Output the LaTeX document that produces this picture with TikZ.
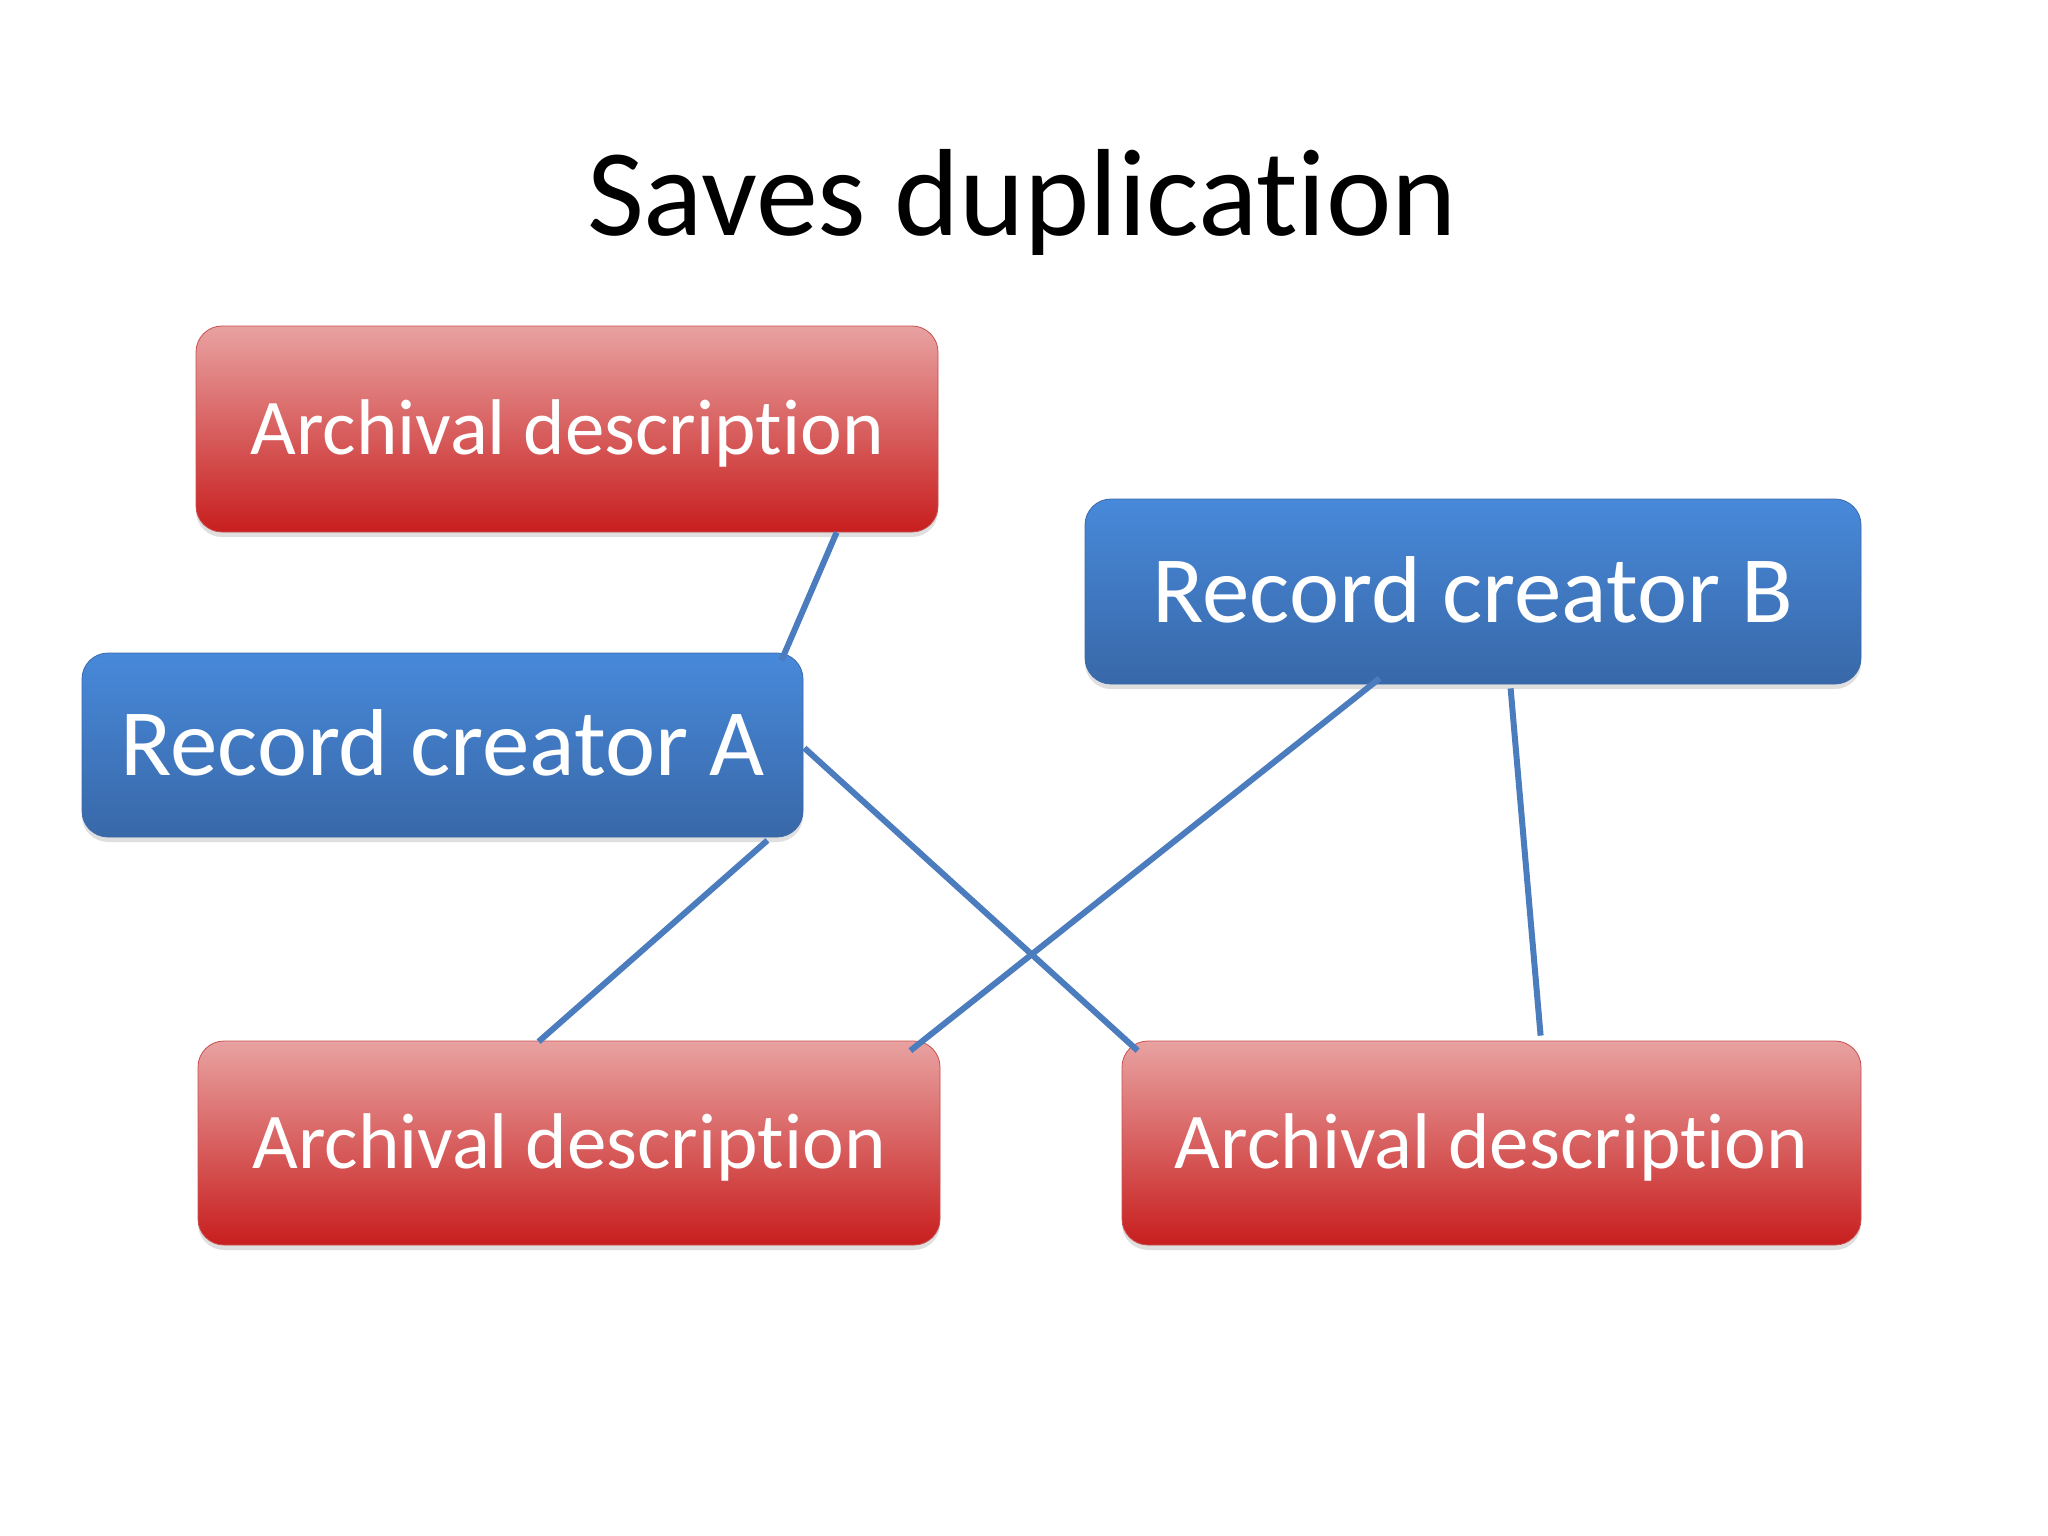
\documentclass[tikz,border=0pt]{standalone}
\usepackage{fontspec}
\setmainfont[Ligatures=NoCommon]{Carlito}
\usetikzlibrary{shadows,calc}
\definecolor{redtop}{RGB}{232,162,161}
\definecolor{redmid}{RGB}{222,124,122}
\definecolor{redbot}{RGB}{200,30,30}
\definecolor{redline}{RGB}{200,80,80}
\definecolor{bluetop}{RGB}{72,137,218}
\definecolor{bluebot}{RGB}{56,104,168}
\definecolor{blueline}{RGB}{60,105,170}
\definecolor{conn}{RGB}{74,124,190}
\begin{document}
\begin{tikzpicture}[x=1pt,y=-1pt,
  box/.style={rounded corners=26pt, draw, line width=0.8pt, inner sep=0pt, text=white,
    text depth=0pt,
    drop shadow={opacity=0.25, shadow xshift=0pt, shadow yshift=-5pt}},
  redbox/.style={box, draw=redline, top color=redtop, middle color=redmid, bottom color=redbot,
    font=\fontsize{79}{90}\selectfont, text height=51pt},
  bluebox/.style={box, draw=blueline, top color=bluetop, bottom color=bluebot,
    font=\fontsize{95}{110}\selectfont, text height=61pt},
  link/.style={draw=conn, line width=6pt}
]
\useasboundingbox[fill=white] (0,0) rectangle (2048,1536);
\node (title) [anchor=base, font=\fontsize{124}{140}\selectfont] at (1022,235) {Saves duplication};

\node (adtop) [redbox, minimum width=742pt, minimum height=206pt] at (567,429) {Archival description};
\node (rca) [bluebox, minimum width=721pt, minimum height=184pt] at (442.5,745) {Record creator A};
\node (rcb) [bluebox, minimum width=776pt, minimum height=185pt] at (1473,591.5) {Record creator B};
\node (adbl) [redbox, minimum width=742pt, minimum height=204pt] at (569,1143) {Archival description};
\node (adbr) [redbox, minimum width=739pt, minimum height=204pt] at (1491.5,1143) {Archival description};

\draw[link] ($(adtop.south west)+(641,0)$) -- ($(rca.north east)+(-22,8)$);
\draw[link] ($(rca.east)+(1,3)$) -- ($(adbr.north west)+(16,10)$);
\draw[link] ($(rca.south east)+(-36,3)$) -- ($(adbl.north west)+(341,1)$);
\draw[link] ($(rcb.south west)+(295,-6)$) -- ($(adbl.north east)+(-30,10)$);
\draw[link] ($(rcb.south west)+(426,4)$) -- ($(adbr.north west)+(419,-5)$);
\end{tikzpicture}
\end{document}
